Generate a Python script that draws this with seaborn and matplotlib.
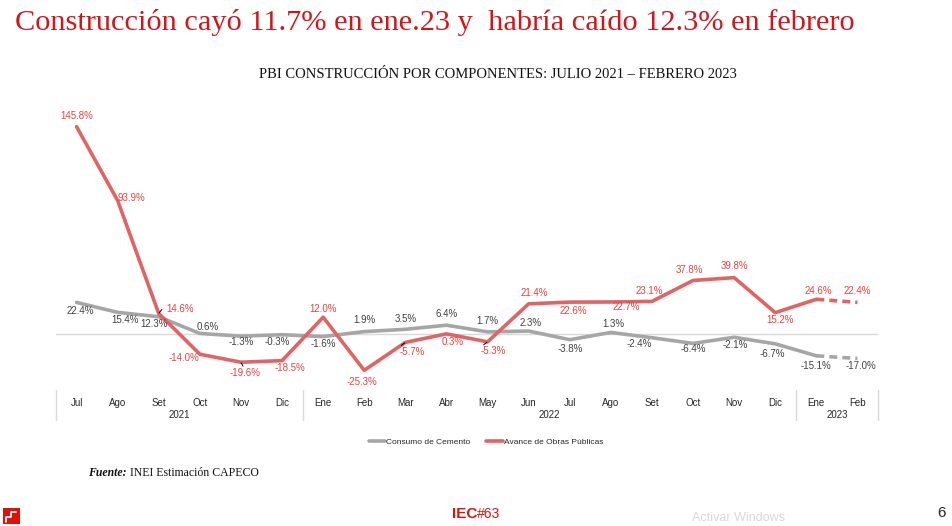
import matplotlib
matplotlib.use("Agg")
import matplotlib.pyplot as plt
import matplotlib.transforms as mtransforms
from matplotlib.patches import Rectangle
from matplotlib.lines import Line2D
import seaborn as sns
import pandas as pd
import numpy as np

# ---------------- data ----------------
months = ["Jul", "Ago", "Set", "Oct", "Nov", "Dic", "Ene", "Feb", "Mar", "Abr",
          "May", "Jun", "Jul", "Ago", "Set", "Oct", "Nov", "Dic", "Ene", "Feb"]
years = ["2021", "2022", "2023"]
cemento = [22.4, 15.4, 12.3, 0.6, -1.3, -0.3, -1.6, 1.9, 3.5, 6.4,
           1.7, 2.3, -3.8, 1.3, -2.4, -6.4, -2.1, -6.7, -15.1, -17.0]
obras = [145.8, 93.9, 14.6, -14.0, -19.6, -18.5, 12.0, -25.3, -5.7, 0.3,
         -5.3, 21.4, 22.6, 22.7, 23.1, 37.8, 39.8, 15.2, 24.6, 22.4]
series_names = ["Consumo de Cemento", "Avance de Obras Públicas"]

title = "Construcción cayó 11.7% en ene.23 y  habría caído 12.3% en febrero"
subtitle = "PBI CONSTRUCCIÓN POR COMPONENTES: JULIO 2021 – FEBRERO 2023"

# ---------------- styling ----------------
W, H = 952, 526
GRAY = "#a6a6a6"
RED = "#e06464"
RED_TXT = "#e8413f"
LBL_DARK = "#404040"
SANS = ["Liberation Sans", "DejaVu Sans"]
SERIF = ["Liberation Serif", "DejaVu Serif"]
LFS = 7.0

sns.set_theme(style="white")
plt.rcParams["font.family"] = SANS

fig = plt.figure(figsize=(W / 100, H / 100), dpi=100)
ax_left, ax_right, ax_top, ax_bot = 56, 878, 105, 388
ax = fig.add_axes([ax_left / W, 1 - ax_bot / H, (ax_right - ax_left) / W, (ax_bot - ax_top) / H])

n = len(months)
idx = np.arange(n)
df = pd.DataFrame({
    "i": np.concatenate([idx, idx]),
    "v": cemento + obras,
    "serie": [series_names[0]] * n + [series_names[1]] * n,
})
solid = df[df["i"] <= n - 2]
dashed = df[df["i"] >= n - 2]
pal = {series_names[0]: GRAY, series_names[1]: RED}

ax.axhline(0, color="#d9d9d9", lw=1, zorder=0)
sns.lineplot(data=solid, x="i", y="v", hue="serie", palette=pal, lw=2.6, ax=ax,
             legend=False, zorder=2)
sns.lineplot(data=dashed, x="i", y="v", hue="serie", palette=pal, lw=2.6, ax=ax,
             legend=False, zorder=2, linestyle=(0, (2.2, 1.4)))

ax.set_xlim(-0.5, n - 0.5)
zero_px = 334.3
scale = 1.424  # px per unit
ax.set_ylim(-(ax_bot - zero_px) / scale, (zero_px - ax_top) / scale)
for s in ax.spines.values():
    s.set_visible(False)
ax.set_yticks([])
ax.set_xticks(idx)
ax.set_xticklabels(months, fontsize=LFS, color="#262626")
ax.tick_params(axis="x", length=0, pad=7.2)
ax.set_xlabel("")
ax.set_ylabel("")

# category separators and year labels
trans = mtransforms.blended_transform_factory(ax.transData, ax.transAxes)
axh = ax_bot - ax_top
for xs in [-0.5, 5.5, 17.5, n - 0.5]:
    ax.plot([xs, xs], [-2 / axh, -32 / axh], color="#d9d9d9", lw=1,
            transform=trans, clip_on=False)
for yr, xc in zip(years, [2.5, 11.5, 18.5]):
    ax.text(xc, -(415 - ax_bot) / axh, yr, transform=trans, ha="center",
            va="center", fontsize=LFS, color="#262626")

# data labels (offsets in pixels: dx, dy with +dy downward)
cem_off = [(4, 9), (7, 8), (-5, 7), (8, -6.5), (0, 6), (-5, 7), (0, 7.5),
           (0, -11.5), (0, -10), (0, -11), (0, -11), (2, -8.5), (1, 9.5), (3, -8.5),
           (-13, 6.5), (0, 6), (1, 8), (-3, 10), (0, 10), (3, 7.5)]
obr_off = [(0, -11), (14, -3), (21, -5), (-16, 4), (4, 10.5), (8, 7),
           (0, -8), (-2, 11.5), (7, 10), (6, 8), (6, 9), (6, -11), (4, 9),
           (15, 5.5), (-3, -10), (-4, -10), (0, -11.5), (5, 7.5), (2, -8), (0, -11.5)]
# short black leader lines: end offset in pixels from the point
leaders = {2: (3, -4), 4: (2, 4), 8: (-4, 3), 10: (-4, 3)}
px2pt = 0.72
for i in range(n):
    dx, dy = cem_off[i]
    ax.annotate(f"{cemento[i]:.1f}%", (i, cemento[i]), xytext=(dx * px2pt, -dy * px2pt),
                textcoords="offset points", ha="center", va="center",
                fontsize=LFS, color=LBL_DARK, zorder=5)
    dx, dy = obr_off[i]
    ax.annotate(f"{obras[i]:.1f}%", (i, obras[i]), xytext=(dx * px2pt, -dy * px2pt),
                textcoords="offset points", ha="center", va="center",
                fontsize=LFS, color=RED_TXT, zorder=5)
    if i in leaders:
        lx, ly = leaders[i]
        ax.annotate("", (i, obras[i]), xytext=(lx * px2pt, -ly * px2pt),
                    textcoords="offset points",
                    arrowprops=dict(arrowstyle="-", color="black", lw=0.7,
                                    shrinkA=0, shrinkB=0.5))

# legend
handles = [Line2D([], [], color=GRAY, lw=2.6), Line2D([], [], color=RED, lw=2.6)]
fig.legend(handles, series_names, loc="center", bbox_to_anchor=(486 / W, 1 - 442 / H),
           ncol=2, frameon=False, fontsize=6.0, handlelength=2.0, handletextpad=0.1,
           columnspacing=1.9)

# titles
fig.canvas.draw()
renderer = fig.canvas.get_renderer()


def fit_text(x, y, s, target_w, size0, **kw):
    t = fig.text(x, y, s, fontsize=size0, **kw)
    w = t.get_window_extent(renderer).width
    t.set_fontsize(size0 * target_w / w)
    return t


fit_text(15 / W, 1 - 22 / H, title, 843, 24, color="#d0161a", family=SERIF,
         ha="left", va="center")
fit_text(498 / W, 1 - 75 / H, subtitle, 480, 10, color="#111111", family=SERIF,
         ha="center", va="center")

t1 = fig.text(88 / W, 1 - 473 / H, "Fuente:", fontsize=8.5, family=SERIF,
              weight="bold", style="italic", ha="left", va="center", color="#111111")
w1 = t1.get_window_extent(renderer).width
fig.text((88 + w1 + 3) / W, 1 - 473 / H, "INEI Estimación CAPECO", fontsize=8.5,
         family=SERIF, ha="left", va="center", color="#111111")

# footer
fig.patches.append(Rectangle((3 / W, 1 - 524 / H), 17 / W, 16 / H, transform=fig.transFigure,
                             facecolor="#d9140f", edgecolor="none"))
fig.lines.append(Line2D([6 / W, 6 / W, 11 / W, 11 / W, 16 / W],
                        [1 - 522 / H, 1 - 517 / H, 1 - 517 / H, 1 - 512 / H, 1 - 512 / H],
                        transform=fig.transFigure, color="white", lw=1.2))
t2 = fig.text(452 / W, 1 - 514 / H, "IEC", fontsize=11, weight="bold", color="#d9140f",
              ha="left", va="center", family=SANS)
w2 = t2.get_window_extent(renderer).width
fig.text((452 + w2) / W, 1 - 514 / H, "#63", fontsize=10, color="#d9140f",
         ha="left", va="center", family=SANS)
fig.text(941 / W, 1 - 513 / H, "6", fontsize=11, color="#222222", ha="center", va="center")
fig.text(692 / W, 1 - 518 / H, "Activar Windows", fontsize=9, color="#d8d8d8",
         ha="left", va="center")

fig.savefig("out.png", dpi=100)
